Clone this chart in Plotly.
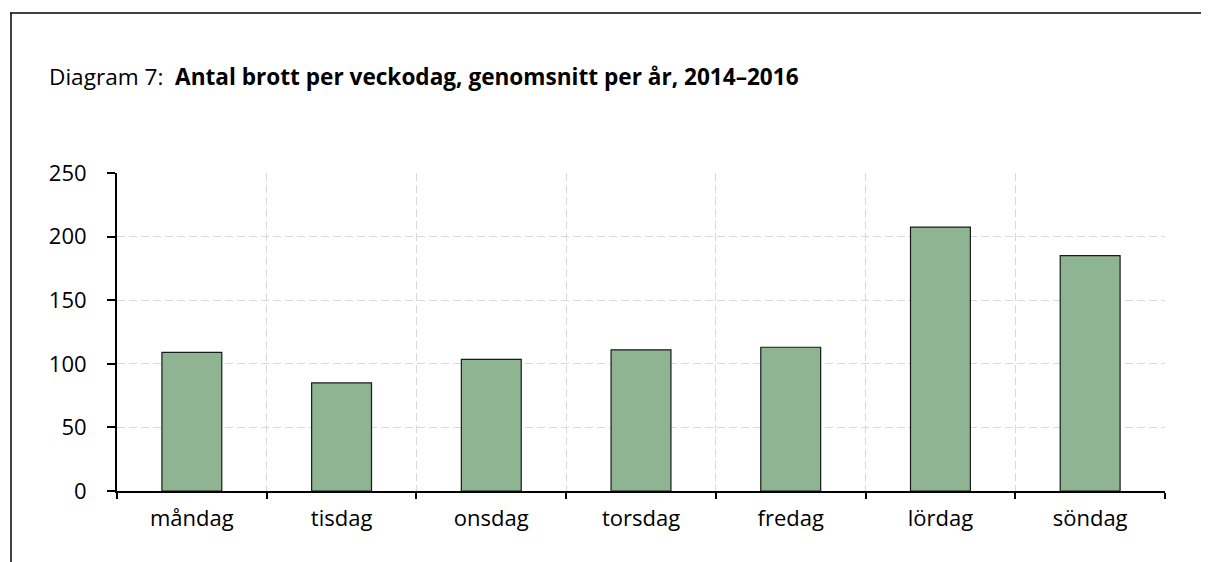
import plotly.graph_objects as go

days = ["måndag", "tisdag", "onsdag", "torsdag", "fredag", "lördag", "söndag"]
values = [109, 85, 103.5, 111, 113, 207.5, 185]
y_ticks = [0, 50, 100, 150, 200, 250]

# page body has an 8px margin, so figure coords = screen coords - 8
OFF = 8
W, H = 1209 - OFF, 562 - OFF
L, R, T, B = 117 - OFF, 1165 - OFF, 173 - OFF, 491 - OFF

def px(x):
    return (x - OFF - L) / (R - L)

def py(y):
    return (B - (y - OFF)) / (B - T)

fig = go.Figure()
fig.add_trace(go.Bar(
    x=days, y=values, width=0.4,
    marker=dict(color="#8FB491", line=dict(color="#1a1a1a", width=1.2)),
))

font = "'Open Sans', Lato, sans-serif"
fig.update_layout(
    width=W, height=H,
    margin=dict(l=L, r=W - R, t=T, b=H - B, pad=0),
    plot_bgcolor="white", paper_bgcolor="white",
    showlegend=False,
    font=dict(family=font, size=22, color="black"),
    title=dict(
        text="Diagram 7:  <b>Antal brott per veckodag, genomsnitt per år, 2014–2016</b>",
        x=(49 - OFF) / W, xanchor="left", xref="container",
        y=1 - (77 - OFF) / H, yanchor="middle", yref="container",
        font=dict(family=font, size=22.6, color="black"),
    ),
)
fig.update_xaxes(
    type="category", tickson="boundaries",
    showline=True, linecolor="black", linewidth=2,
    ticks="outside", ticklen=6, tickwidth=2, tickcolor="black",
    showgrid=True, gridcolor="#d9d9d9", griddash="8px,4px", gridwidth=1.3,
    tickfont=dict(size=22), ticklabelstandoff=7,
)
fig.update_yaxes(
    range=[0, 250], tickvals=y_ticks,
    showline=True, linecolor="black", linewidth=2,
    ticks="outside", ticklen=8, tickwidth=2, tickcolor="black",
    showgrid=True, gridcolor="#d9d9d9", griddash="8px,4px", gridwidth=1.3,
    zeroline=False, tickfont=dict(size=22), ticklabelstandoff=16,
)
# frame lines
fig.add_shape(type="line", xref="paper", yref="paper",
              x0=px(10), x1=px(1209), y0=py(13), y1=py(13),
              line=dict(color="black", width=1.5))
fig.add_shape(type="line", xref="paper", yref="paper",
              x0=px(11), x1=px(11), y0=py(13), y1=py(562),
              line=dict(color="black", width=1.5))

fig.write_html("out.html")
